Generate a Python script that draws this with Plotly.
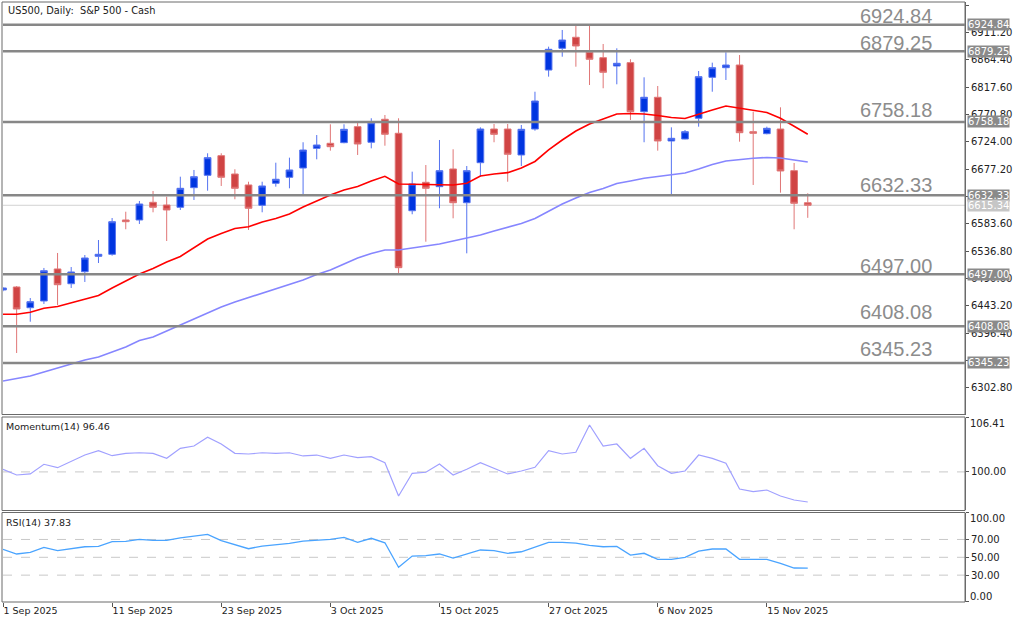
import plotly.graph_objects as go

# ---------------- data ----------------
bar_index = list(range(60))

opens = [6470.2, 6475.3, 6439.8, 6451.3, 6506.2, 6480.9, 6501.5, 6527.9, 6531.3, 6590.1,
         6590.1, 6620.4, 6615.8, 6611.9, 6645.5, 6666.7, 6700.3, 6668.9, 6650.1, 6615.3,
         6653.0, 6663.3, 6679.2, 6712.9, 6721.5, 6722.6, 6750.0, 6723.3, 6762.7, 6738.7,
         6606.0, 6654.7, 6647.2, 6677.5, 6619.7, 6688.3, 6746.0, 6746.0, 6701.5, 6746.0,
         6847.1, 6884.3, 6903.2, 6877.5, 6868.2, 6854.0, 6859.7, 6775.7, 6800.4, 6725.5,
         6728.9, 6764.4, 6834.6, 6851.1, 6855.7, 6741.4, 6738.0, 6746.0, 6674.6, 6619.7]
highs = [6475.0, 6477.0, 6456.4, 6507.9, 6533.6, 6509.5, 6530.1, 6555.8, 6593.5, 6604.3,
         6622.7, 6639.8, 6630.0, 6664.3, 6675.8, 6704.4, 6704.4, 6677.0, 6655.7, 6655.7,
         6688.3, 6696.9, 6723.3, 6735.7, 6754.1, 6754.1, 6757.5, 6764.4, 6770.0, 6764.4,
         6672.9, 6684.3, 6727.2, 6711.3, 6682.6, 6748.9, 6754.6, 6754.6, 6752.9, 6809.9,
         6887.1, 6915.7, 6924.3, 6924.3, 6891.7, 6884.3, 6865.5, 6834.6, 6819.7, 6748.9,
         6744.3, 6845.4, 6859.7, 6877.5, 6872.8, 6775.7, 6750.0, 6783.2, 6687.8, 6635.9]
lows = [6468.0, 6362.2, 6415.8, 6446.2, 6444.5, 6473.6, 6483.9, 6516.4, 6528.9, 6574.2,
        6583.3, 6603.3, 6554.1, 6607.3, 6624.4, 6640.3, 6648.4, 6625.6, 6573.0, 6603.3,
        6647.2, 6644.4, 6632.9, 6694.1, 6708.9, 6721.5, 6701.5, 6712.9, 6717.4, 6499.3,
        6599.9, 6552.9, 6610.2, 6593.0, 6533.0, 6664.3, 6723.3, 6655.7, 6682.6, 6743.1,
        6835.7, 6869.9, 6852.8, 6821.4, 6815.8, 6822.6, 6761.5, 6723.3, 6708.9, 6632.9,
        6728.4, 6750.0, 6809.9, 6830.0, 6724.3, 6650.1, 6736.9, 6636.9, 6574.2, 6593.8]
closes = [6473.6, 6437.6, 6450.1, 6503.2, 6479.2, 6501.0, 6525.0, 6531.3, 6587.2, 6587.2,
          6617.5, 6611.9, 6607.3, 6644.4, 6664.3, 6696.9, 6663.3, 6644.4, 6610.2, 6648.4,
          6659.9, 6675.8, 6710.0, 6718.6, 6715.7, 6745.5, 6720.3, 6756.8, 6737.0, 6508.4,
          6651.8, 6644.4, 6674.6, 6619.7, 6674.6, 6746.0, 6736.9, 6702.7, 6745.5, 6794.0,
          6882.6, 6898.5, 6888.3, 6865.5, 6843.2, 6858.6, 6775.7, 6800.4, 6725.5, 6730.1,
          6741.4, 6835.7, 6851.1, 6855.7, 6739.7, 6738.7, 6747.2, 6674.1, 6618.7, 6615.34]

ma_fast = [6428.5, 6428.5, 6432.0, 6438.8, 6441.9, 6447.9, 6453.9, 6460.7, 6473.6, 6485.6,
           6497.6, 6507.0, 6518.1, 6527.6, 6542.1, 6557.6, 6567.0, 6575.6, 6578.6, 6586.7,
           6592.7, 6600.4, 6612.4, 6622.7, 6633.0, 6641.5, 6647.5, 6656.9, 6665.0, 6651.8,
           6651.3, 6650.9, 6650.1, 6650.1, 6653.0, 6665.5, 6668.9, 6671.2, 6679.2, 6690.4,
           6710.1, 6727.2, 6742.6, 6754.6, 6763.2, 6771.7, 6772.6, 6771.7, 6769.2, 6765.7,
           6764.0, 6771.7, 6778.6, 6785.5, 6782.0, 6777.7, 6774.3, 6764.4, 6750.0, 6737.0]
ma_slow = [6314.2, 6318.5, 6322.8, 6329.7, 6336.5, 6342.5, 6350.2, 6355.4, 6363.9, 6372.5,
           6383.6, 6389.6, 6399.9, 6410.2, 6420.5, 6431.6, 6441.0, 6449.6, 6457.3, 6464.2,
           6472.7, 6480.5, 6487.3, 6496.7, 6504.4, 6514.7, 6525.0, 6532.7, 6538.7, 6538.7,
           6542.1, 6545.6, 6549.0, 6554.1, 6558.8, 6564.4, 6571.3, 6577.3, 6584.1, 6592.7,
           6605.5, 6617.5, 6627.8, 6637.2, 6644.1, 6652.7, 6656.9, 6661.6, 6664.7, 6667.2,
           6670.6, 6677.5, 6685.2, 6691.2, 6693.8, 6695.8, 6697.2, 6696.4, 6692.9, 6689.5]

momentum = [100.31, 99.64, 99.76, 100.90, 100.50, 101.20, 101.99, 102.50, 101.91, 102.19,
            102.26, 102.19, 101.60, 102.78, 103.05, 104.08, 103.29, 102.19, 102.11, 102.26,
            102.19, 102.26, 101.88, 101.99, 101.60, 101.99, 101.68, 101.79, 101.09, 97.16,
            99.84, 99.96, 100.93, 99.64, 100.31, 101.09, 100.43, 99.76, 100.11, 100.54,
            102.50, 102.11, 102.31, 105.53, 103.05, 103.29, 101.60, 102.78, 100.73, 99.84,
            100.11, 101.99, 101.60, 101.02, 97.99, 97.67, 97.87, 97.16, 96.69, 96.46]
rsi = [58.9, 53.7, 55.6, 61.2, 57.4, 59.6, 61.8, 62.3, 67.5, 67.9,
       70.1, 69.0, 69.0, 71.9, 73.5, 75.7, 68.6, 64.1, 59.6, 62.6,
       63.8, 65.7, 68.2, 69.4, 70.1, 72.4, 66.8, 71.3, 66.3, 38.8,
       51.4, 51.8, 53.7, 49.2, 53.7, 58.2, 57.4, 54.5, 56.2, 61.2,
       66.8, 66.8, 66.0, 63.4, 61.8, 62.3, 52.5, 54.5, 47.7, 47.7,
       50.0, 57.0, 59.3, 59.3, 47.7, 47.7, 47.7, 43.2, 38.0, 37.83]

levels = [6924.84, 6879.25, 6758.18, 6632.33, 6497.00, 6408.08, 6345.23]
last_price = 6615.34

price_ticks = [6302.80, 6349.60, 6396.40, 6443.20, 6490.00, 6536.80, 6583.60, 6630.40,
               6677.20, 6724.00, 6770.80, 6817.60, 6864.40, 6911.20, 6958.00]
hidden_price_ticks = [6349.60, 6630.40]   # covered by level boxes in the reference
date_ticks = [0, 8, 16, 24, 32, 40, 48, 56]
date_labels = ["1 Sep 2025", "11 Sep 2025", "23 Sep 2025", "3 Oct 2025",
               "15 Oct 2025", "27 Oct 2025", "6 Nov 2025", "15 Nov 2025"]

title_text = "US500, Daily:  S&P 500 - Cash"
mom_label = "Momentum(14) 96.46"
rsi_label = "RSI(14) 37.83"
mom_max, mom_min = 106.41, 95.51
rsi_levels = [70, 50, 30]

# ---------------- geometry ----------------
W, H = 1024, 623
def py(p):
    return 1 - p / H
def px(p):
    return p / W

FONT = "DejaVu Sans"
bar_px = 13.64
x_left, x_right = 3, 965

fig = go.Figure()

fig.add_trace(go.Candlestick(
    x=bar_index, open=opens, high=highs, low=lows, close=closes,
    increasing=dict(fillcolor="#0035e0", line=dict(color="#5573f0", width=1)),
    decreasing=dict(fillcolor="#d04444", line=dict(color="#e07676", width=1)),
    whiskerwidth=0, xaxis="x", yaxis="y", hoverinfo="skip", showlegend=False))

fig.add_trace(go.Scatter(x=bar_index, y=ma_slow, mode="lines",
                         line=dict(color="#8686ff", width=1.6), xaxis="x", yaxis="y", hoverinfo="skip"))
fig.add_trace(go.Scatter(x=bar_index, y=ma_fast, mode="lines",
                         line=dict(color="#ff0000", width=1.6), xaxis="x", yaxis="y", hoverinfo="skip"))
fig.add_trace(go.Scatter(x=bar_index, y=momentum, mode="lines",
                         line=dict(color="#a0a0ff", width=1.2), xaxis="x", yaxis="y2", hoverinfo="skip"))
fig.add_trace(go.Scatter(x=bar_index, y=rsi, mode="lines",
                         line=dict(color="#4aa4ff", width=1.3), xaxis="x", yaxis="y3", hoverinfo="skip"))

shapes = []
# panel frames
for top, bot in [(2, 414.5), (417, 510.5), (512.5, 602)]:
    shapes.append(dict(type="rect", xref="paper", yref="paper", x0=px(2), x1=px(x_right),
                       y0=py(bot), y1=py(top), line=dict(color="#6a6a6a", width=1),
                       fillcolor="rgba(0,0,0,0)", layer="above"))
# current price line
shapes.append(dict(type="line", xref="paper", yref="y", x0=px(x_left), x1=px(x_right),
                   y0=last_price, y1=last_price, line=dict(color="#d2d2d2", width=1), layer="below"))
# horizontal levels
for lv in levels:
    shapes.append(dict(type="line", xref="paper", yref="y", x0=px(x_left), x1=px(x_right),
                       y0=lv, y1=lv, line=dict(color="#878787", width=2.5), layer="above"))
# indicator reference lines
shapes.append(dict(type="line", xref="paper", yref="y2", x0=px(x_left), x1=px(x_right),
                   y0=100, y1=100, line=dict(color="#c8c8c8", width=1, dash="dash"), layer="below"))
for lv in rsi_levels:
    shapes.append(dict(type="line", xref="paper", yref="y3", x0=px(x_left), x1=px(x_right),
                       y0=lv, y1=lv, line=dict(color="#c8c8c8", width=1, dash="dash"), layer="below"))

annotations = []
label_shift = [-4, -5, -1, -3, -4.5, 1.5, 1]
for lv, sh in zip(levels, label_shift):
    annotations.append(dict(xref="paper", yref="y", x=px(934), y=lv, xanchor="right", yanchor="bottom",
                            yshift=sh, text=f"{lv:.2f}", showarrow=False,
                            font=dict(family="Liberation Sans", size=20, color="#8c8c8c")))
    annotations.append(dict(xref="paper", yref="y", x=px(967), y=lv, xanchor="left", yanchor="middle",
                            text=f"{lv:.2f}", showarrow=False, bgcolor="#8a8a8a", borderpad=0,
                            font=dict(family=FONT, size=10, color="white")))
annotations.append(dict(xref="paper", yref="y", x=px(967), y=last_price, xanchor="left", yanchor="middle",
                        text=f"{last_price:.2f}", showarrow=False, bgcolor="#c6c6c6", borderpad=0,
                        font=dict(family=FONT, size=10, color="white")))
annotations.append(dict(xref="paper", yref="paper", x=px(6), y=py(3), xanchor="left", yanchor="top",
                        text=title_text, showarrow=False, font=dict(family=FONT, size=9.8, color="#222")))
annotations.append(dict(xref="paper", yref="paper", x=px(4), y=py(418.5), xanchor="left", yanchor="top",
                        text=mom_label, showarrow=False, font=dict(family=FONT, size=9.5, color="#222")))
annotations.append(dict(xref="paper", yref="paper", x=px(4), y=py(514.5), xanchor="left", yanchor="top",
                        text=rsi_label, showarrow=False, font=dict(family=FONT, size=9.5, color="#222")))
for val, yr, sh in [(mom_max, "y2", -6), (mom_min, "y2", 5), (100, "y3", -5.6), (0, "y3", 5.2)]:
    annotations.append(dict(xref="paper", yref=yr, x=px(968), y=val, xanchor="left", yanchor="middle",
                            yshift=sh, text=f"{val:.2f}", showarrow=False,
                            font=dict(family=FONT, size=10, color="#222")))

axis_font = dict(family=FONT, size=10, color="#222")
fig.update_layout(
    width=W, height=H, margin=dict(l=0, r=0, t=0, b=0),
    paper_bgcolor="white", plot_bgcolor="white", showlegend=False, hovermode=False,
    shapes=shapes, annotations=annotations,
    xaxis=dict(domain=[px(x_left), px(x_right)], range=[0, (x_right - x_left) / bar_px],
               anchor="y3", rangeslider=dict(visible=False), showgrid=False, zeroline=False,
               tickmode="array", tickvals=date_ticks, ticktext=date_labels,
               ticks="outside", ticklen=4, tickcolor="#555", ticklabelposition="outside right",
               tickfont=dict(family=FONT, size=9.5, color="#222"), showline=False),
    yaxis=dict(domain=[py(414.5), py(2)], range=[6256.8, 6963.65], side="right", anchor="x",
               showgrid=False, zeroline=False, tickmode="array", tickvals=price_ticks,
               ticktext=["" if v in hidden_price_ticks else f"{v:.2f}" for v in price_ticks],
               ticks="outside", ticklen=3,
               tickcolor="#555", tickfont=axis_font, showline=True, linecolor="#6a6a6a"),
    yaxis2=dict(domain=[py(510), py(417.5)], range=[95.515, 106.41], side="right", anchor="x",
                showgrid=False, zeroline=False, tickmode="array", tickvals=[mom_min, 100, mom_max],
                ticktext=["", "100.00", ""], ticks="outside", ticklen=3, tickcolor="#555",
                tickfont=axis_font, showline=True, linecolor="#6a6a6a"),
    yaxis3=dict(domain=[py(601.9), py(512.7)], range=[0, 100], side="right", anchor="x",
                showgrid=False, zeroline=False, tickmode="array", tickvals=[0, 30, 50, 70, 100],
                ticktext=["", "30.00", "50.00", "70.00", ""], ticks="outside", ticklen=3,
                tickcolor="#555", tickfont=axis_font, showline=True, linecolor="#6a6a6a"),
)

fig.write_html("out.html")
